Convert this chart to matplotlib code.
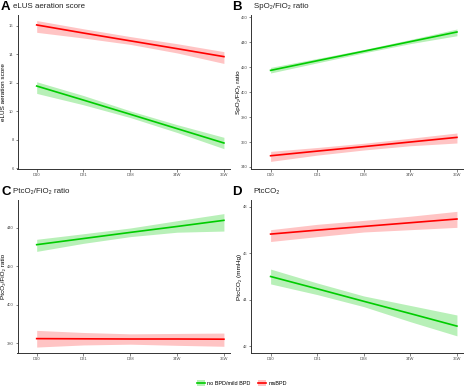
import numpy as np
import matplotlib
matplotlib.use("Agg")
import matplotlib.pyplot as plt
from matplotlib.patches import Patch
from matplotlib.lines import Line2D

plt.rcParams['font.family'] = ['Liberation Sans', 'DejaVu Sans']

timepoints = ["D10", "D21", "D28", "34W", "36W"]

# panel A: eLUS aeration score
a_mild = [11.77, 10.78, 9.78, 8.77, 7.76]
a_mild_lo = [11.25, 10.45, 9.55, 8.5, 7.36]
a_mild_hi = [12.07, 11.1, 10.02, 9.05, 8.16]
a_ms = [16.07, 15.5, 14.95, 14.4, 13.84]
a_ms_lo = [15.55, 15.15, 14.7, 14.1, 13.36]
a_ms_hi = [16.38, 15.8, 15.25, 14.75, 14.19]

# panel B: SpO2/FiO2 ratio
b_mild = [417.3, 425.0, 432.6, 440.3, 448.0]
b_mild_lo = [415.2, 423.3, 431.3, 438.7, 445.0]
b_mild_hi = [419.7, 426.8, 434.0, 442.0, 450.4]
b_ms = [349.0, 352.7, 356.3, 360.0, 363.7]
b_ms_lo = [344.5, 349.5, 353.6, 357.0, 359.2]
b_ms_hi = [352.5, 355.6, 359.0, 363.0, 367.2]

# panel C: PtcO2/FiO2 ratio
c_mild = [431.3, 434.5, 437.7, 440.8, 444.0]
c_mild_lo = [427.8, 432.0, 435.5, 437.8, 438.4]
c_mild_hi = [434.1, 437.0, 440.0, 443.8, 447.5]
c_ms = [382.3, 382.2, 382.1, 382.1, 382.0]
c_ms_lo = [377.9, 379.0, 379.4, 378.8, 378.3]
c_ms_hi = [386.6, 385.5, 384.8, 385.0, 385.2]

# panel D: PtcCO2
d_mild = [45.0, 44.47, 43.93, 43.4, 42.86]
d_mild_lo = [44.68, 44.22, 43.7, 43.05, 42.44]
d_mild_hi = [45.32, 44.72, 44.16, 43.75, 43.34]
d_ms = [46.83, 47.0, 47.16, 47.32, 47.48]
d_ms_lo = [46.51, 46.72, 46.92, 47.02, 47.12]
d_ms_hi = [47.02, 47.25, 47.42, 47.6, 47.81]

GREEN, RED = "#00CC00", "#FF0000"
GREEN_F, RED_F = "#B8F0B8", "#FFC4C4"
TICK_C = "#4D4D4D"

fig = plt.figure(figsize=(4.67, 3.88), dpi=100)
W, H = 467, 388


def box(l, t, r, b):
    return [l / W, 1 - b / H, (r - l) / W, (b - t) / H]


# (letter, title, ylabel, axes box, ylim, yticks, letter x, title x, header y, ylabel x, data)
panels = [
    ("A", "eLUS aeration score", "eLUS aeration score", box(17.5, 15, 230, 169), (5.93, 16.77), [6, 8, 10, 12, 14, 16],
     1, 13, 7, 3.5, (a_mild, a_mild_lo, a_mild_hi, a_ms, a_ms_lo, a_ms_hi)),
    ("B", "SpO₂/FiO₂ ratio", "SpO₂/FiO₂ ratio", box(251.5, 15, 463, 169), (338.4, 461.6), [340, 360, 380, 400, 420, 440, 460],
     232, 254, 7, 238.5, (b_mild, b_mild_lo, b_mild_hi, b_ms, b_ms_lo, b_ms_hi)),
    ("C", "PtcO₂/FiO₂ ratio", "PtcO₂/FiO₂ ratio", box(17.5, 200, 230, 353), (374.8, 454.6), [380, 400, 420, 440],
     1, 13, 192, 3.5, (c_mild, c_mild_lo, c_mild_hi, c_ms, c_ms_lo, c_ms_hi)),
    ("D", "PtcCO₂", "PtcCO₂ (mmHg)", box(251.5, 200, 463, 353), (41.7, 48.3), [42, 44, 46, 48],
     232, 253, 192, 240, (d_mild, d_mild_lo, d_mild_hi, d_ms, d_ms_lo, d_ms_hi)),
]

x = np.arange(len(timepoints))
for letter, title, ylabel, pos, ylim, yticks, lx, tx, hy, ylx, (m, mlo, mhi, s, slo, shi) in panels:
    ax = fig.add_axes(pos)
    ax.fill_between(x, mlo, mhi, color=GREEN_F, lw=0)
    ax.fill_between(x, slo, shi, color=RED_F, lw=0)
    ax.plot(x, m, color=GREEN, lw=1.2)
    ax.plot(x, s, color=RED, lw=1.2)
    ax.set_xlim(-0.41, 4.13)
    ax.set_ylim(*ylim)
    ax.set_xticks(x)
    ax.set_xticklabels(timepoints)
    ax.set_yticks(yticks)
    for sp in ("top", "right"):
        ax.spines[sp].set_visible(False)
    for sp in ("left", "bottom"):
        ax.spines[sp].set_color("#333333")
        ax.spines[sp].set_linewidth(0.7)
    ax.tick_params(labelsize=3.0, colors=TICK_C, length=1.8, width=0.5, pad=1.0)
    ax.set_ylabel(ylabel, fontsize=4.6, va="center")
    l, b, w, h = pos
    ax.yaxis.set_label_coords((ylx - l * W) / (w * W), 0.5)
    fig.text(lx / W, 1 - hy / H, letter, fontsize=9.5, fontweight="bold", va="center", ha="left")
    fig.text(tx / W, 1 - hy / H, title, fontsize=5.7, va="center", ha="left", color="#222222")

handles = [
    (Patch(facecolor=GREEN_F, edgecolor="none"), Line2D([], [], color=GREEN, lw=1.2)),
    (Patch(facecolor=RED_F, edgecolor="none"), Line2D([], [], color=RED, lw=1.2)),
]
fig.legend(handles, ["no BPD/mild BPD", "msBPD"], loc="center", bbox_to_anchor=(242 / W, 1 - 383 / H),
           ncol=2, frameon=False, fontsize=4.0, handlelength=1.4, handleheight=1.2, columnspacing=1.3,
           handletextpad=0.5)

fig.savefig("out.png", dpi=100)
